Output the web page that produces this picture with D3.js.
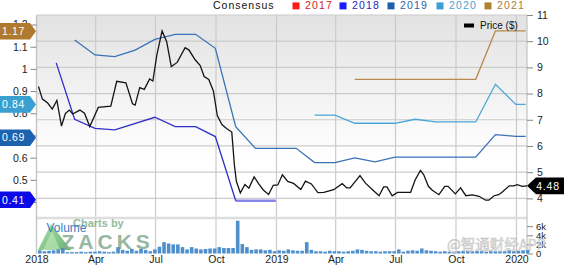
<!DOCTYPE html>
<html>
<head>
<meta charset="utf-8">
<script src="https://cdn.jsdelivr.net/npm/d3@7"></script>
<style>
  body{margin:0;background:#fff;}
  svg{display:block;font-family:"Liberation Sans",Arial,sans-serif;}
</style>
</head>
<body>
<svg id="chart" width="564" height="266"></svg>
<script>
// ---- data ----
var priceDates=["2018-01-04","2018-01-10","2018-01-18","2018-01-25","2018-02-01","2018-02-08","2018-02-14","2018-02-20","2018-02-25","2018-03-08",
  "2018-03-15","2018-03-23","2018-04-05","2018-04-24","2018-05-03","2018-05-17","2018-05-27","2018-05-31","2018-06-07","2018-06-14",
  "2018-06-22","2018-06-27","2018-07-03","2018-07-11","2018-07-18","2018-07-25","2018-08-03","2018-08-15","2018-08-21","2018-08-30",
  "2018-09-07","2018-09-13","2018-09-20","2018-09-27","2018-10-03","2018-10-10","2018-10-17","2018-10-25","2018-10-29","2018-11-01",
  "2018-11-07","2018-11-14","2018-11-20","2018-11-28","2018-12-05","2018-12-12","2018-12-20","2018-12-27","2019-01-03","2019-01-10",
  "2019-01-18","2019-01-27","2019-02-07","2019-02-14","2019-02-23","2019-03-05","2019-03-14","2019-03-29","2019-04-11","2019-04-18",
  "2019-04-23","2019-05-08","2019-05-16","2019-05-27","2019-06-06","2019-06-13","2019-06-18","2019-06-26","2019-07-04","2019-07-14",
  "2019-07-24","2019-07-31","2019-08-08","2019-08-13","2019-08-20","2019-08-26","2019-09-05","2019-09-14","2019-09-19","2019-09-30",
  "2019-10-08","2019-10-16","2019-10-26","2019-11-05","2019-11-15","2019-11-20","2019-11-28","2019-12-05","2019-12-10","2019-12-21",
  "2019-12-28","2020-01-02","2020-01-10","2020-01-17"];
var prices=[8.27,7.79,7.64,7.41,7.74,6.76,7.24,7.37,7.22,7.37,
  7.25,6.74,7.47,7.52,8.47,8.41,7.61,7.56,8.23,8.16,
  8.56,8.48,9.47,10.39,9.98,9.03,9.19,9.75,9.66,9.30,
  9.07,8.65,8.54,8.10,7.16,6.82,6.67,6.53,5.27,4.65,
  4.21,4.53,4.39,4.82,4.55,4.32,4.15,4.50,4.51,4.90,
  4.65,4.57,4.34,4.66,4.55,4.22,4.23,4.33,4.56,4.40,
  4.40,4.87,4.59,4.33,4.10,4.44,4.44,4.10,4.23,4.23,
  4.23,4.71,5.07,4.90,4.46,4.31,4.14,4.46,4.46,4.17,
  4.40,4.10,4.13,4.08,3.93,3.93,4.10,4.14,4.23,4.48,
  4.48,4.52,4.46,4.48];

// consensus EPS estimates, one line per fiscal year
var est2018Dates=["2018-01-31","2018-02-28","2018-03-31","2018-04-30","2018-06-30","2018-07-31","2018-08-31","2018-09-30","2018-10-31"];
var est2018=[1.027,0.773,0.732,0.725,0.782,0.74,0.74,0.695,0.406];
var est2018TailDates=["2018-10-31","2018-11-30","2018-12-31"];
var est2018Tail=[0.406,0.406,0.406];

var est2019Dates=["2018-02-28","2018-03-31","2018-04-30","2018-05-31","2018-06-30","2018-07-31","2018-08-31","2018-09-30","2018-10-31","2018-11-30",
  "2018-12-31","2019-01-31","2019-02-28","2019-03-31","2019-04-30","2019-05-31","2019-06-30","2019-07-31","2019-08-31","2019-09-30",
  "2019-10-31","2019-11-30","2019-12-31","2020-01-15"];
var est2019=[1.13,1.063,1.055,1.085,1.133,1.156,1.156,1.093,0.74,0.642,
  0.642,0.642,0.578,0.578,0.599,0.581,0.602,0.602,0.602,0.602,
  0.602,0.704,0.696,0.696];

var est2020Dates=["2019-02-28","2019-03-31","2019-04-30","2019-05-31","2019-06-30","2019-07-31","2019-08-31","2019-09-30","2019-10-31","2019-11-30","2019-12-31","2020-01-15"];
var est2020=[0.792,0.792,0.755,0.755,0.755,0.773,0.761,0.761,0.761,0.931,0.84,0.84];

var est2021Dates=["2019-04-30","2019-05-31","2019-06-30","2019-07-31","2019-08-31","2019-09-30","2019-10-31","2019-11-30","2019-12-31","2020-01-15"];
var est2021=[0.953,0.953,0.953,0.953,0.953,0.953,0.953,1.171,1.171,1.171];

// weekly volume in thousands, weeks starting Mon 2018-01-01
var volumeStart="2018-01-01";
var volumes=[0.7,0.5,0.6,0.7,0.9,1.2,0.3,0.3,0.3,0.4,
  0.3,0.4,0.4,0.5,0.4,0.3,0.4,1.4,0.8,0.6,
  1.0,0.6,1.0,0.8,0.5,0.9,1.5,2.5,2.2,2.0,
  2.0,1.4,0.9,1.4,1.1,0.9,1.0,1.1,1.1,1.4,
  1.2,1.2,1.2,7.2,2.1,1.4,0.8,0.9,0.9,0.7,
  0.8,0.5,0.7,0.6,0.9,0.7,0.6,0.6,2.5,0.8,
  0.5,0.5,0.4,0.6,0.5,0.5,0.4,0.5,0.6,0.9,
  0.8,0.6,0.5,0.5,0.4,0.5,0.5,0.5,0.9,0.4,
  0.6,0.7,0.6,1.1,0.7,0.6,0.5,0.4,0.5,0.4,
  0.4,0.5,0.6,0.5,0.5,0.6,0.5,0.4,0.6,0.5,
  0.6,0.5,0.7,0.5,0.6,0.7,0.8];

// callouts and legend
var legendYears=["2017","2018","2019","2020","2021"];
var legendColors=["#ff1a1a","#1a1aff","#1f5fa8","#3ba0d4","#b08030"];
var legendText=["#cc2424","#2626c4","#2d62a6","#4aa2d2","#a87c3a"];
var calloutValues=[1.17,0.84,0.69,0.41];
var calloutColors=["#b07a2e","#3a9fd1","#1d62ae","#0a0ae6"];
var lastPrice=4.48;
var priceTicks=[4,5,6,7,8,9,10,11];
var epsTicks=[0.4,0.5,0.6,0.7,0.8,0.9,1,1.1,1.2];
var volTicks=[0,2,4,6];

var parse=d3.timeParse("%Y-%m-%d");

// ---- layout ----  (note: "top" is taken by window.top, so plotTop)
var plotLeft=36.5, plotRight=527, plotTop=15, priceBottom=218, volBottom=253.5;
var svg=d3.select("#chart");

var x=d3.scaleTime()
        .domain([parse("2018-01-01"),parse("2020-01-17")])
        .range([plotLeft,plotRight]);
var yPrice=d3.scaleLinear().domain([3.25,11]).range([priceBottom,plotTop]);
var yEps=d3.scaleLinear().domain([0.328,1.243]).range([priceBottom,plotTop]);
var yVol=d3.scaleLinear().domain([0,8]).range([volBottom,volBottom-36.4]);

// background gradient
var defs=svg.append("defs");
var grad=defs.append("linearGradient")
    .attr("id","bg").attr("x1",0).attr("y1",0).attr("x2",0).attr("y2",1);
grad.append("stop").attr("offset","0%").attr("stop-color","#e2e2e2");
grad.append("stop").attr("offset","70%").attr("stop-color","#ffffff");

var tri=defs.append("linearGradient")
    .attr("id","tri").attr("x1",0).attr("y1",0).attr("x2",1).attr("y2",1);
tri.append("stop").attr("offset","0%").attr("stop-color","#9bd89b");
tri.append("stop").attr("offset","100%").attr("stop-color","#4fa85a");

svg.append("rect")
    .attr("x",plotLeft).attr("y",plotTop)
    .attr("width",plotRight-plotLeft).attr("height",priceBottom-plotTop)
    .attr("fill","url(#bg)");

// grid
var quarterTicks=x.ticks(d3.timeMonth.every(3));
svg.append("g").selectAll("line")
  .data(quarterTicks)
  .enter().append("line")
    .attr("x1",d=>x(d)).attr("x2",d=>x(d))
    .attr("y1",plotTop).attr("y2",volBottom)
    .attr("stroke","#cbcbcb").attr("stroke-width",1.2);

svg.append("g").selectAll("line")
  .data(priceTicks)
  .enter().append("line")
    .attr("x1",plotLeft).attr("x2",plotRight)
    .attr("y1",d=>yPrice(d)).attr("y2",d=>yPrice(d))
    .attr("stroke","#cbcbcb").attr("stroke-width",1.2);

// panel separator and frame
svg.append("line").attr("x1",plotLeft).attr("x2",plotRight).attr("y1",priceBottom).attr("y2",priceBottom)
    .attr("stroke","#dddddd").attr("stroke-width",2.5);
svg.append("line").attr("x1",plotLeft).attr("x2",plotLeft).attr("y1",plotTop).attr("y2",volBottom)
    .attr("stroke","#c4c4c4").attr("stroke-width",1.2);
svg.append("line").attr("x1",plotRight).attr("x2",plotRight).attr("y1",plotTop).attr("y2",volBottom)
    .attr("stroke","#c4c4c4").attr("stroke-width",1.2);

// Zacks watermark (behind the bars)
var wm=svg.append("g");
wm.append("path")
    .attr("d","M38,250 L51,224 L71,250 Z")
    .attr("fill","url(#tri)").attr("opacity",0.85);
wm.append("path")
    .attr("d","M43,250 L52,231 L60,250 Z")
    .attr("fill","#c2ecbc").attr("opacity",0.6);
wm.append("text")
    .attr("x",61.5).attr("y",248.5)
    .attr("font-size",21).attr("letter-spacing",4).attr("font-weight","bold")
    .attr("fill","#86ac90").attr("opacity",0.85)
    .text("ZACKS");
wm.append("text")
    .attr("x",73).attr("y",227)
    .attr("font-size",11).attr("font-weight","bold")
    .attr("fill","#86b494").attr("opacity",0.9)
    .text("Charts by");
wm.append("text")
    .attr("x",46.5).attr("y",232)
    .attr("font-size",12)
    .attr("fill","#3c7dbf")
    .text("Volume");

// volume bars
var volStart=parse(volumeStart);
svg.append("g").selectAll("rect")
  .data(volumes)
  .enter().append("rect")
    .attr("x",(d,i)=>x(d3.timeDay.offset(d3.timeMonday.offset(volStart,i),5))-1.8)
    .attr("y",d=>yVol(d))
    .attr("width",3.6)
    .attr("height",d=>yVol(0)-yVol(d))
    .attr("fill","#4f8fcc");

// consensus lines
function estLine(dates,vals){
  return d3.line().x((d,i)=>x(parse(dates[i]))).y(d=>yEps(d))(vals);
}
svg.append("path").attr("d",estLine(est2018TailDates,est2018Tail))
    .attr("fill","none").attr("stroke","#8585ea").attr("stroke-width",2.6);
svg.append("path").attr("d",estLine(est2018Dates,est2018))
    .attr("fill","none").attr("stroke","#3030c8").attr("stroke-width",1.3);
svg.append("path").attr("d",estLine(est2019Dates,est2019))
    .attr("fill","none").attr("stroke","#3a72b8").attr("stroke-width",1.3);
svg.append("path").attr("d",estLine(est2020Dates,est2020))
    .attr("fill","none").attr("stroke","#4aa6d6").attr("stroke-width",1.3);
svg.append("path").attr("d",estLine(est2021Dates,est2021))
    .attr("fill","none").attr("stroke","#b8894f").attr("stroke-width",1.3);

// price line
svg.append("path")
    .attr("d",d3.line().x((d,i)=>x(parse(priceDates[i]))).y(d=>yPrice(d))(prices))
    .attr("fill","none").attr("stroke","#151515").attr("stroke-width",1.3);

// axes
var xAxis=d3.axisBottom(x)
    .tickValues(quarterTicks)
    .tickSize(0).tickPadding(0)
    .tickFormat(d=>d.getMonth()===0 ? d3.timeFormat("%Y")(d) : d3.timeFormat("%b")(d));
var gx=svg.append("g").attr("transform","translate(0,256)").call(xAxis);
gx.select(".domain").remove();
gx.selectAll("text").attr("dy","0.71em").attr("font-size",10.5).attr("fill","#222")
    .attr("font-family","Liberation Sans, Arial, sans-serif");

var rightAxis=d3.axisRight(yPrice).tickValues(priceTicks).tickSize(6).tickPadding(4);
var gr=svg.append("g").attr("transform","translate("+plotRight+",0)").call(rightAxis);
gr.select(".domain").remove();
gr.selectAll("line").attr("stroke","#888");
gr.selectAll("text").attr("font-size",10.5).attr("fill","#222").attr("font-family","Liberation Sans, Arial, sans-serif");

var volAxis=d3.axisRight(yVol).tickValues(volTicks).tickSize(6).tickPadding(3)
    .tickFormat(d=>d===0 ? "0" : d+"k");
var gv=svg.append("g").attr("transform","translate("+plotRight+",0)").call(volAxis);
gv.select(".domain").remove();
gv.selectAll("line").attr("stroke","#888");
gv.selectAll("text").attr("font-size",9.5).attr("fill","#222").attr("font-family","Liberation Sans, Arial, sans-serif");

var leftAxis=d3.axisLeft(yEps).tickValues(epsTicks).tickSize(6).tickPadding(3)
    .tickFormat(d=>String(+d.toFixed(1)));
var gl=svg.append("g").attr("transform","translate("+plotLeft+",0)").call(leftAxis);
gl.select(".domain").remove();
gl.selectAll("line").attr("stroke","#888");
gl.selectAll("text").attr("font-size",10.5).attr("fill","#222").attr("font-family","Liberation Sans, Arial, sans-serif");

// left callouts with the latest estimates
var callouts=svg.append("g").selectAll("g")
  .data(calloutValues)
  .enter().append("g")
    .attr("transform",d=>"translate(0,"+yEps(d)+")");
callouts.append("path")
    .attr("d","M0,-8.3 L30,-8.3 L36,0 L30,8.3 L0,8.3 Z")
    .attr("fill",(d,i)=>calloutColors[i]);
callouts.append("text")
    .attr("x",13.5).attr("dy","0.36em")
    .attr("text-anchor","middle")
    .attr("font-size",10.5).attr("letter-spacing",0.6)
    .attr("fill","#fff")
    .text(d=>d.toFixed(2));

// last price callout
var pc=svg.append("g").attr("transform","translate(0,"+yPrice(lastPrice)+")");
pc.append("path").attr("d","M527,0 L536,-8.4 L564,-8.4 L564,8.4 L536,8.4 Z").attr("fill","#000");
pc.append("text").attr("x",548).attr("dy","0.36em").attr("text-anchor","middle")
    .attr("font-size",10.5).attr("letter-spacing",0.8).attr("fill","#fff")
    .text(lastPrice.toFixed(2));

// top legend
svg.append("text")
    .attr("x",213).attr("y",9.3)
    .attr("font-size",10.5).attr("letter-spacing",1)
    .attr("fill","#111")
    .text("Consensus");
var legendX=[305,352,400,449,497];
var lg=svg.append("g").selectAll("g")
  .data(legendYears)
  .enter().append("g");
lg.append("rect")
    .attr("x",(d,i)=>legendX[i]-12.5).attr("y",2.4)
    .attr("width",7).attr("height",7)
    .attr("fill",(d,i)=>legendColors[i]);
lg.append("text")
    .attr("x",(d,i)=>legendX[i]).attr("y",9.3)
    .attr("font-size",10.5).attr("letter-spacing",1.2)
    .attr("fill",(d,i)=>legendText[i])
    .text(d=>d);

// price legend
svg.append("rect").attr("x",464).attr("y",23.5).attr("width",10).attr("height",4).attr("fill","#000");
svg.append("text").attr("x",480).attr("y",29.3).attr("font-size",10).attr("fill","#111").text("Price ($)");

// source watermark
svg.append("text")
    .attr("x",447).attr("y",249.5)
    .attr("font-size",14.5)
    .attr("font-family","Noto Sans CJK SC, sans-serif")
    .attr("fill","#e6e6e6").attr("stroke","#b8b8b8").attr("stroke-width",0.5)
    .attr("opacity",0.85)
    .text("@智通财经APP");
</script>
</body>
</html>
